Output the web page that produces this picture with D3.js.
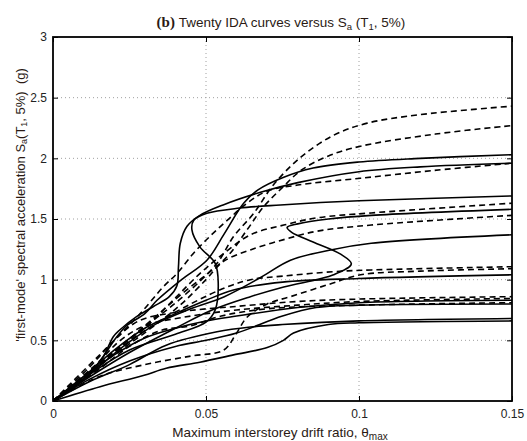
<!DOCTYPE html>
<html><head><meta charset="utf-8">
<script src="https://cdn.jsdelivr.net/npm/d3@7"></script>
<style>body{margin:0;background:#fff}</style>
</head><body>
<svg id="c" width="527" height="441"></svg>
<script>
const xTicks = [0, 0.05, 0.1, 0.15];
const xTickLabels = ["0", "0.05", "0.1", "0.15"];
const yTicks = [0, 0.5, 1, 1.5, 2, 2.5, 3];
const yTickLabels = ["0", "0.5", "1", "1.5", "2", "2.5", "3"];

// Each record: [max interstorey drift ratio, Sa(T1,5%) in g]
const solid1 = [[0,0],[0.01,0.18],[0.016,0.35],[0.02,0.5],[0.024,0.62],[0.03,0.72],[0.034,0.83],[0.042,1.0],[0.0503,1.16],[0.056,1.38],[0.0623,1.63],[0.067,1.74],[0.075,1.84],[0.085,1.92],[0.1,1.97],[0.12,2.0],[0.15,2.03]];
const solid2 = [[0,0],[0.011,0.2],[0.0164,0.365],[0.0197,0.53],[0.0218,0.585],[0.0273,0.695],[0.0327,0.777],[0.038,0.86],[0.0405,0.95],[0.041,1.107],[0.0416,1.3],[0.0438,1.44],[0.048,1.53],[0.056,1.62],[0.0678,1.72],[0.08,1.8],[0.1,1.89],[0.12,1.93],[0.15,1.96]];
const solid3 = [[0,0],[0.012,0.22],[0.025,0.42],[0.04,0.55],[0.05,0.65],[0.053,0.75],[0.054,0.97],[0.053,1.135],[0.048,1.27],[0.0454,1.41],[0.046,1.49],[0.0503,1.547],[0.061,1.59],[0.0743,1.615],[0.1,1.65],[0.15,1.69]];
const solid4 = [[0,0],[0.012,0.2],[0.025,0.4],[0.04,0.6],[0.052,0.75],[0.0645,0.86],[0.0754,0.94],[0.0917,1.04],[0.0975,1.13],[0.094,1.21],[0.085,1.31],[0.078,1.39],[0.0765,1.43],[0.08,1.46],[0.09,1.5],[0.104,1.53],[0.15,1.58]];
const solid5 = [[0,0],[0.012,0.22],[0.023,0.45],[0.034,0.64],[0.045,0.76],[0.056,0.86],[0.068,1.02],[0.0776,1.16],[0.0907,1.245],[0.104,1.3],[0.15,1.37]];
const solid6 = [[0,0],[0.01,0.2],[0.02,0.42],[0.03,0.6],[0.04,0.72],[0.05,0.83],[0.059,0.915],[0.075,0.98],[0.1,1.01],[0.15,1.04]];
const solid7 = [[0,0],[0.01,0.2],[0.02,0.38],[0.03,0.52],[0.04,0.6],[0.05,0.66],[0.06,0.7],[0.08,0.77],[0.1,0.81],[0.15,0.83]];
const solid8 = [[0,0],[0.012,0.18],[0.025,0.33],[0.04,0.45],[0.05,0.5],[0.06,0.56],[0.075,0.7],[0.086,0.77],[0.1,0.79],[0.15,0.8]];
const solid9 = [[0,0],[0.012,0.16],[0.025,0.3],[0.037,0.46],[0.0536,0.57],[0.0645,0.61],[0.075,0.63],[0.1,0.66],[0.15,0.68]];
const solid10 = [[0,0],[0.0154,0.118],[0.0295,0.21],[0.037,0.27],[0.048,0.32],[0.059,0.38],[0.07,0.44],[0.0753,0.5],[0.0786,0.56],[0.09,0.63],[0.1,0.645],[0.15,0.66]];

const dashed1 = [[0,0],[0.012,0.25],[0.022,0.45],[0.032,0.65],[0.042,0.85],[0.0536,1.135],[0.059,1.355],[0.0656,1.547],[0.072,1.78],[0.081,2.01],[0.0917,2.19],[0.1027,2.29],[0.12,2.36],[0.15,2.43]];
const dashed2 = [[0,0],[0.015,0.3],[0.03,0.62],[0.042,0.88],[0.0569,1.19],[0.0634,1.41],[0.0688,1.6],[0.075,1.76],[0.081,1.9],[0.09,2.02],[0.1005,2.1],[0.125,2.2],[0.15,2.27]];
const dashed3 = [[0,0],[0.012,0.3],[0.02,0.5],[0.0285,0.72],[0.036,0.94],[0.0405,1.05],[0.046,1.22],[0.0514,1.36],[0.057,1.49],[0.0634,1.63],[0.07,1.73],[0.08,1.78],[0.1005,1.836],[0.1245,1.9],[0.15,1.96]];
const dashed4 = [[0,0],[0.018,0.35],[0.03,0.6],[0.04,0.85],[0.048,1.05],[0.055,1.2],[0.0645,1.37],[0.0754,1.45],[0.0864,1.51],[0.104,1.55],[0.15,1.63]];
const dashed5 = [[0,0],[0.02,0.38],[0.032,0.6],[0.042,0.8],[0.05,1.0],[0.0557,1.15],[0.0645,1.245],[0.0754,1.33],[0.0864,1.4],[0.104,1.45],[0.15,1.53]];
const dashed6 = [[0,0],[0.015,0.3],[0.03,0.58],[0.045,0.8],[0.0569,0.94],[0.0645,1.0],[0.0754,1.03],[0.0917,1.066],[0.104,1.08],[0.15,1.107]];
const dashed7 = [[0,0],[0.015,0.2],[0.03,0.3],[0.045,0.37],[0.0558,0.42],[0.06,0.56],[0.0634,0.69],[0.07,0.8],[0.0776,0.86],[0.09,0.96],[0.1005,1.04],[0.12,1.07],[0.15,1.09]];
const dashed8 = [[0,0],[0.012,0.28],[0.02,0.5],[0.028,0.66],[0.04,0.73],[0.06,0.78],[0.08,0.82],[0.1,0.84],[0.15,0.86]];
const dashed9 = [[0,0],[0.014,0.3],[0.022,0.5],[0.03,0.62],[0.045,0.7],[0.06,0.75],[0.08,0.79],[0.1,0.82],[0.15,0.845]];
const dashed10 = [[0,0],[0.016,0.28],[0.025,0.45],[0.035,0.58],[0.045,0.62],[0.055,0.7],[0.07,0.76],[0.1,0.79],[0.15,0.81]];

const solidCurves = [solid1, solid2, solid3, solid4, solid5, solid6, solid7, solid8, solid9, solid10];
const dashedCurves = [dashed1, dashed2, dashed3, dashed4, dashed5, dashed6, dashed7, dashed8, dashed9, dashed10];

const svg = d3.select("#c");
const m = {l: 53, r: 512, t: 37, b: 401};
const x = d3.scaleLinear().domain([0, 0.15]).range([m.l, m.r]);
const y = d3.scaleLinear().domain([0, 3]).range([m.b, m.t]);
const sans = "'Liberation Sans', Arial, sans-serif";
const txt = "#2a1a14";

svg.append("defs").append("clipPath").attr("id","clip")
  .append("rect").attr("x", m.l).attr("y", m.t).attr("width", m.r-m.l).attr("height", m.b-m.t);

// grid
const grid = svg.append("g").attr("stroke", "#a0a0a0").attr("stroke-width", 1).attr("stroke-dasharray", "1,3");
grid.selectAll(".gx").data(xTicks.slice(1, -1)).join("line")
  .attr("x1", d => x(d)).attr("x2", d => x(d)).attr("y1", m.t).attr("y2", m.b);
grid.selectAll(".gy").data(yTicks.slice(1, -1)).join("line")
  .attr("y1", d => y(d)).attr("y2", d => y(d)).attr("x1", m.l).attr("x2", m.r);

// curves
const line = d3.line().x(d => x(d[0])).y(d => y(d[1])).curve(d3.curveCatmullRom.alpha(0.5));
const cg = svg.append("g").attr("clip-path", "url(#clip)").attr("fill", "none").attr("stroke", "#000");
cg.selectAll(".s").data(solidCurves).join("path").attr("d", line).attr("stroke-width", 1.6);
cg.selectAll(".d").data(dashedCurves).join("path").attr("d", line).attr("stroke-width", 1.6).attr("stroke-dasharray", "6,4");

// axes (ticks inward)
const tk = 5;
const axB = d3.axisBottom(x).tickValues(xTicks).tickFormat((d,i) => xTickLabels[i]).tickSizeInner(-tk).tickSizeOuter(0).tickPadding(8);
const axT = d3.axisTop(x).tickValues(xTicks).tickFormat("").tickSizeInner(-tk).tickSizeOuter(0);
const axL = d3.axisLeft(y).tickValues(yTicks).tickFormat((d,i) => yTickLabels[i]).tickSizeInner(-tk).tickSizeOuter(0).tickPadding(6);
const axR = d3.axisRight(y).tickValues(yTicks).tickFormat("").tickSizeInner(-tk).tickSizeOuter(0);
function style(g){ g.select(".domain").remove(); g.selectAll("line").attr("stroke","#000").attr("stroke-width",1);
  g.selectAll("text").attr("fill","#222").style("font-family", sans).style("font-size","12px"); }
svg.append("g").attr("transform", `translate(0,${m.b})`).call(axB).call(style);
svg.append("g").attr("transform", `translate(0,${m.t})`).call(axT).call(style);
svg.append("g").attr("transform", `translate(${m.l},0)`).call(axL).call(style);
svg.append("g").attr("transform", `translate(${m.r},0)`).call(axR).call(style);
svg.append("rect").attr("x", m.l).attr("y", m.t).attr("width", m.r-m.l).attr("height", m.b-m.t)
  .attr("fill","none").attr("stroke","#000").attr("stroke-width",1.8);

// title
const title = svg.append("text").attr("x", 281).attr("y", 27).attr("text-anchor","middle")
  .attr("fill", txt).style("font-family", sans).style("font-size","13.5px");
title.append("tspan").text("(b) ").style("font-family","'Liberation Serif', 'Times New Roman', serif").style("font-weight","bold").style("font-size","15px");
title.append("tspan").text("Twenty IDA curves versus S");
title.append("tspan").text("a").attr("baseline-shift","-25%").style("font-size","9.5px");
title.append("tspan").text(" (T");
title.append("tspan").text("1").attr("baseline-shift","-25%").style("font-size","9.5px");
title.append("tspan").text(", 5%)");

// x label
const xl = svg.append("text").attr("x", 280).attr("y", 437).attr("text-anchor","middle")
  .attr("fill", txt).style("font-family", sans).style("font-size","13.5px");
xl.append("tspan").text("Maximum interstorey drift ratio, \u03B8");
xl.append("tspan").text("max").attr("baseline-shift","-30%").style("font-size","10px");

// y label
const yl = svg.append("text").attr("transform","translate(25,205) rotate(-90)").attr("text-anchor","middle")
  .attr("fill", txt).style("font-family", sans).style("font-size","13px");
yl.append("tspan").text("'first-mode' spectral acceleration S");
yl.append("tspan").text("a").attr("baseline-shift","-25%").style("font-size","9px");
yl.append("tspan").text("(T");
yl.append("tspan").text("1").attr("baseline-shift","-25%").style("font-size","9px");
yl.append("tspan").text(", 5%)  (g)").attr("xml:space","preserve");
</script>
</body></html>
